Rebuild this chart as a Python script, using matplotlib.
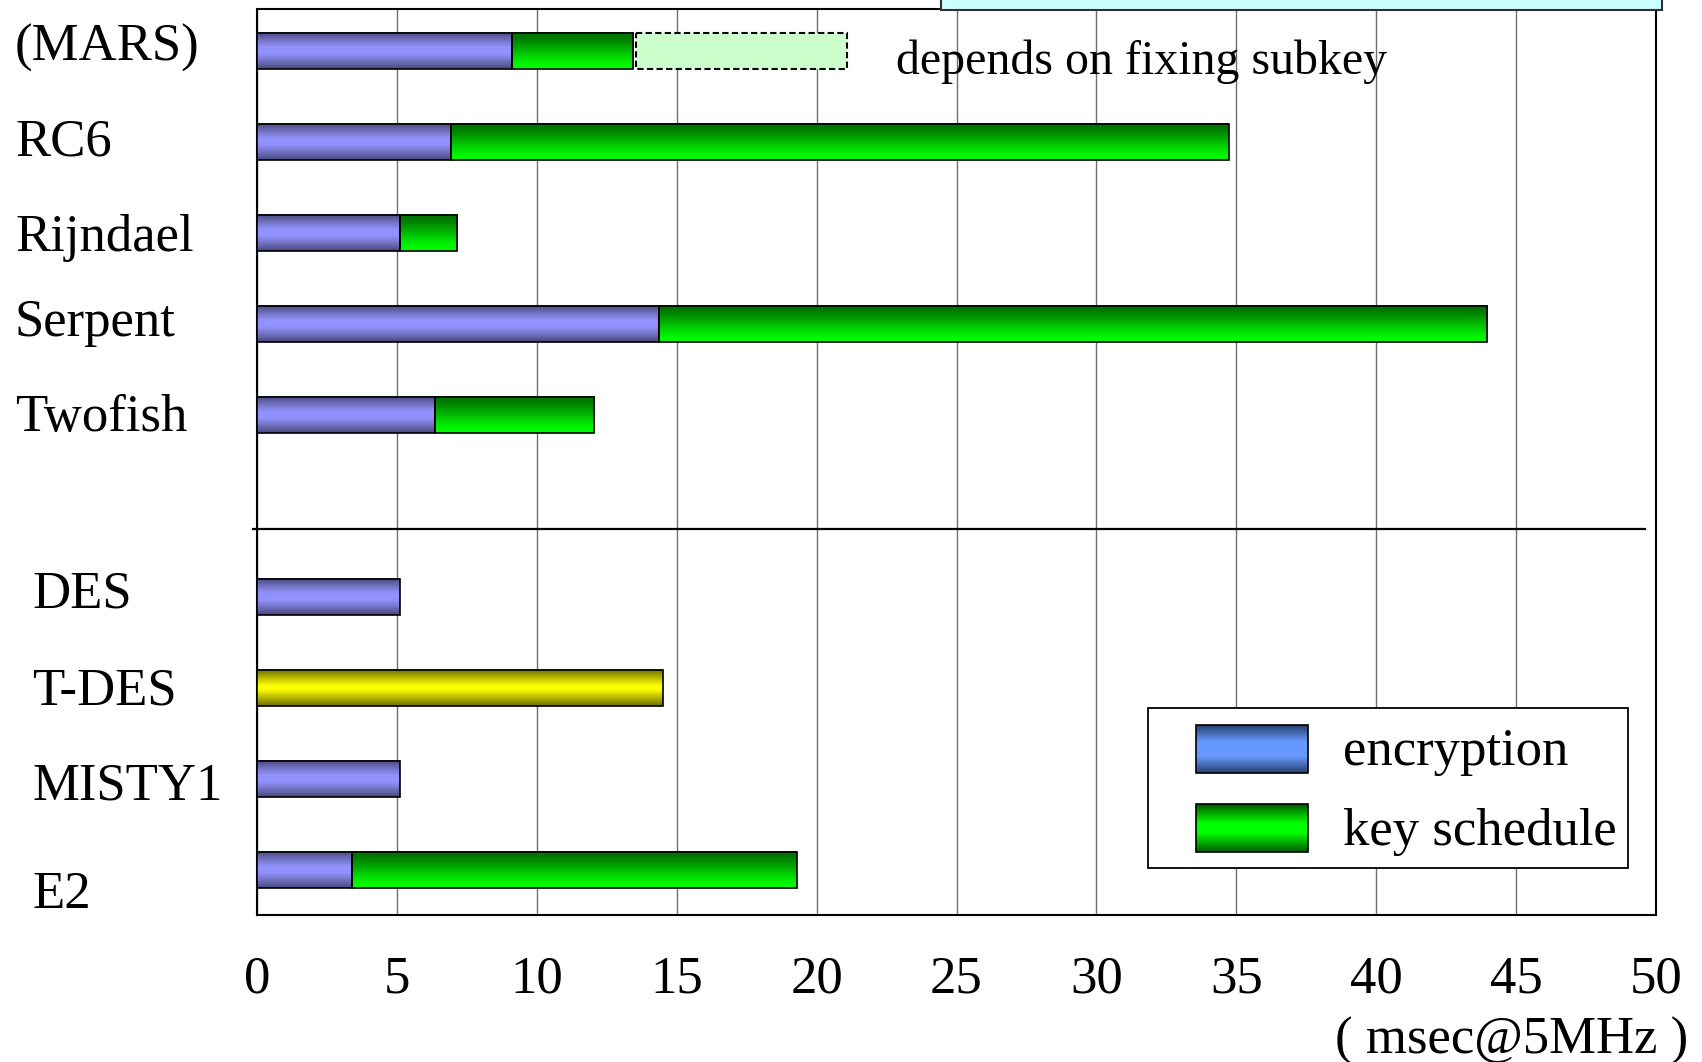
import numpy as np
import matplotlib
matplotlib.use("Agg")
import matplotlib.pyplot as plt
from matplotlib.colors import LinearSegmentedColormap
from matplotlib.patches import Rectangle

# ---- data (msec @ 5MHz) ----
categories = ["(MARS)", "RC6", "Rijndael", "Serpent", "Twofish",
              "DES", "T-DES", "MISTY1", "E2"]
encryption = [9.1, 6.95, 5.1, 14.35, 6.35, 5.1, 14.5, 5.1, 3.4]
key_schedule = [4.35, 27.8, 2.05, 29.6, 5.7, 0.0, 0.0, 0.0, 15.9]
group_sizes = [5, 4]          # AES finalists, then reference ciphers
mars_extra = 7.55             # key-schedule part that depends on fixing subkey
triple_des = "T-DES"
x_ticks = [0, 5, 10, 15, 20, 25, 30, 35, 40, 45, 50]

# ---- layout helpers ----
W, H = 1702, 1062
plt.rcParams["font.family"] = ["Liberation Serif", "DejaVu Serif"]
FS = 38

fig = plt.figure(figsize=(W / 100, H / 100), dpi=100)
AX_L, AX_R, AX_T, AX_B = 257, 1656, 9, 915
ax = fig.add_axes([AX_L / W, 1 - AX_B / H, (AX_R - AX_L) / W, (AX_B - AX_T) / H])


def fx(px):
    return px / W


def fy(py):
    return 1 - py / H


def axx(px):
    return (px - AX_L) / (AX_R - AX_L)


def axy(py):
    return (AX_B - py) / (AX_B - AX_T)


# row positions: one empty slot between the two groups
rows = np.r_[np.arange(group_sizes[0]),
             np.arange(group_sizes[0] + 1, group_sizes[0] + 1 + group_sizes[1])]
BAR_H = 0.40

cm_enc = LinearSegmentedColormap.from_list(
    "enc", [(0, "#48487c"), (0.25, "#7878cc"), (0.42, "#9292ff"),
            (0.58, "#9292ff"), (0.75, "#7878cc"), (1, "#48487c")])
cm_key = LinearSegmentedColormap.from_list(
    "key", [(0, "#006e00"), (0.2, "#008000"), (0.8, "#00f000"), (1, "#00ff00")])
cm_tdes = LinearSegmentedColormap.from_list(
    "tdes", [(0, "#6c6c00"), (0.28, "#c8c800"), (0.45, "#ffff00"),
             (0.55, "#ffff00"), (0.72, "#c8c800"), (1, "#6c6c00")])
cm_leg_enc = LinearSegmentedColormap.from_list(
    "legenc", [(0, "#27406e"), (0.35, "#6699ff"), (0.65, "#6699ff"), (1, "#27406e")])
cm_leg_key = LinearSegmentedColormap.from_list(
    "legkey", [(0, "#005a00"), (0.4, "#00ff00"), (0.6, "#00ff00"), (1, "#005a00")])

GRAD = np.linspace(0, 1, 256).reshape(-1, 1)


def shade(bar, cmap, z=3):
    x0, y0 = bar.get_x(), bar.get_y()
    w, h = bar.get_width(), bar.get_height()
    if w <= 0:
        return
    ax.imshow(GRAD, cmap=cmap, extent=(x0, x0 + w, y0 + h, y0), origin="upper",
              aspect="auto", interpolation="bilinear", zorder=z)


enc = np.array(encryption)
key = np.array(key_schedule)

enc_bars = ax.barh(rows, enc, height=BAR_H, color="none",
                   edgecolor="black", linewidth=1.2, zorder=4)
key_bars = ax.barh(rows, key, left=enc, height=BAR_H, color="none",
                   edgecolor="black", linewidth=1.2, zorder=4)
for name, b in zip(categories, enc_bars):
    shade(b, cm_tdes if name == triple_des else cm_enc)
for b, k in zip(key_bars, key):
    if k > 0:
        shade(b, cm_key)
    else:
        b.set_visible(False)

# MARS: pending key-schedule part
ax.barh(rows[0], mars_extra, left=enc[0] + key[0] + 0.1, height=BAR_H,
        color="#ccffcc", edgecolor="black", linewidth=1.5,
        linestyle=(0, (3, 1.6)), zorder=4)
ax.text(22.85, rows[0] + 0.25, "depends on fixing subkey", fontsize=34.5,
        ha="left", va="baseline", zorder=5)

# axes styling
ax.set_xlim(0, 50)
ax.set_ylim(9.495, -0.462)
ax.set_autoscale_on(False)
ax.set_xticks(x_ticks)
ax.set_xticklabels([str(t) for t in x_ticks], fontsize=FS)
ax.tick_params(axis="x", length=0, pad=29)
ax.set_yticks([])
ax.xaxis.grid(True, color="#6e6e6e", linewidth=1.0)
ax.set_axisbelow(True)
for s in ax.spines.values():
    s.set_color("black")
    s.set_linewidth(1.5)

# separator between the two groups
sep_y = (529 - 51) / 91
ax.plot([-0.14, 49.6], [sep_y, sep_y], color="black", linewidth=1.6,
        clip_on=False, zorder=5)

# category labels
label_shift = [0.11, 0.15, 0.20, 0.13, 0.18, 0.12, 0.18, 0.23, 0.42]
label_x = [15] * group_sizes[0] + [32] * group_sizes[1]
tr = matplotlib.transforms.blended_transform_factory(fig.transFigure, ax.transData)
for name, r, dy, lx in zip(categories, rows, label_shift, label_x):
    ax.text(fx(lx), r + dy, name, transform=tr, fontsize=FS,
            ha="left", va="baseline", clip_on=False)

# unit label
fig.text(fx(1688), fy(1054), "( msec@5MHz )", fontsize=FS,
         ha="right", va="baseline")

# legend box
ax.add_patch(Rectangle((axx(1148), axy(868)), axx(1628) - axx(1148),
                       axy(708) - axy(868), transform=ax.transAxes,
                       facecolor="white", edgecolor="black", linewidth=1.3,
                       zorder=6))
for (top, bot), cmap, text, base in [((725, 773), cm_leg_enc, "encryption", 765),
                                      ((804, 852), cm_leg_key, "key schedule", 845)]:
    ax.imshow(GRAD, cmap=cmap, transform=ax.transAxes,
              extent=(axx(1196), axx(1308), axy(bot), axy(top)), origin="upper",
              aspect="auto", interpolation="bilinear", zorder=7)
    ax.add_patch(Rectangle((axx(1196), axy(bot)), axx(1308) - axx(1196),
                           axy(top) - axy(bot), transform=ax.transAxes,
                           facecolor="none", edgecolor="black", linewidth=1.2,
                           zorder=8))
    ax.text(axx(1343), axy(base), text, transform=ax.transAxes, fontsize=FS,
            ha="left", va="baseline", zorder=8)

ax.set_xlim(0, 50)
ax.set_ylim(9.495, -0.462)

# panel edge at the top of the figure
fig.patches.append(Rectangle((fx(941), fy(10)), fx(1662) - fx(941), 0.05,
                             transform=fig.transFigure, facecolor="#ccffff",
                             edgecolor="#303030", linewidth=1.5, zorder=10))

fig.savefig("out.png", dpi=100)
